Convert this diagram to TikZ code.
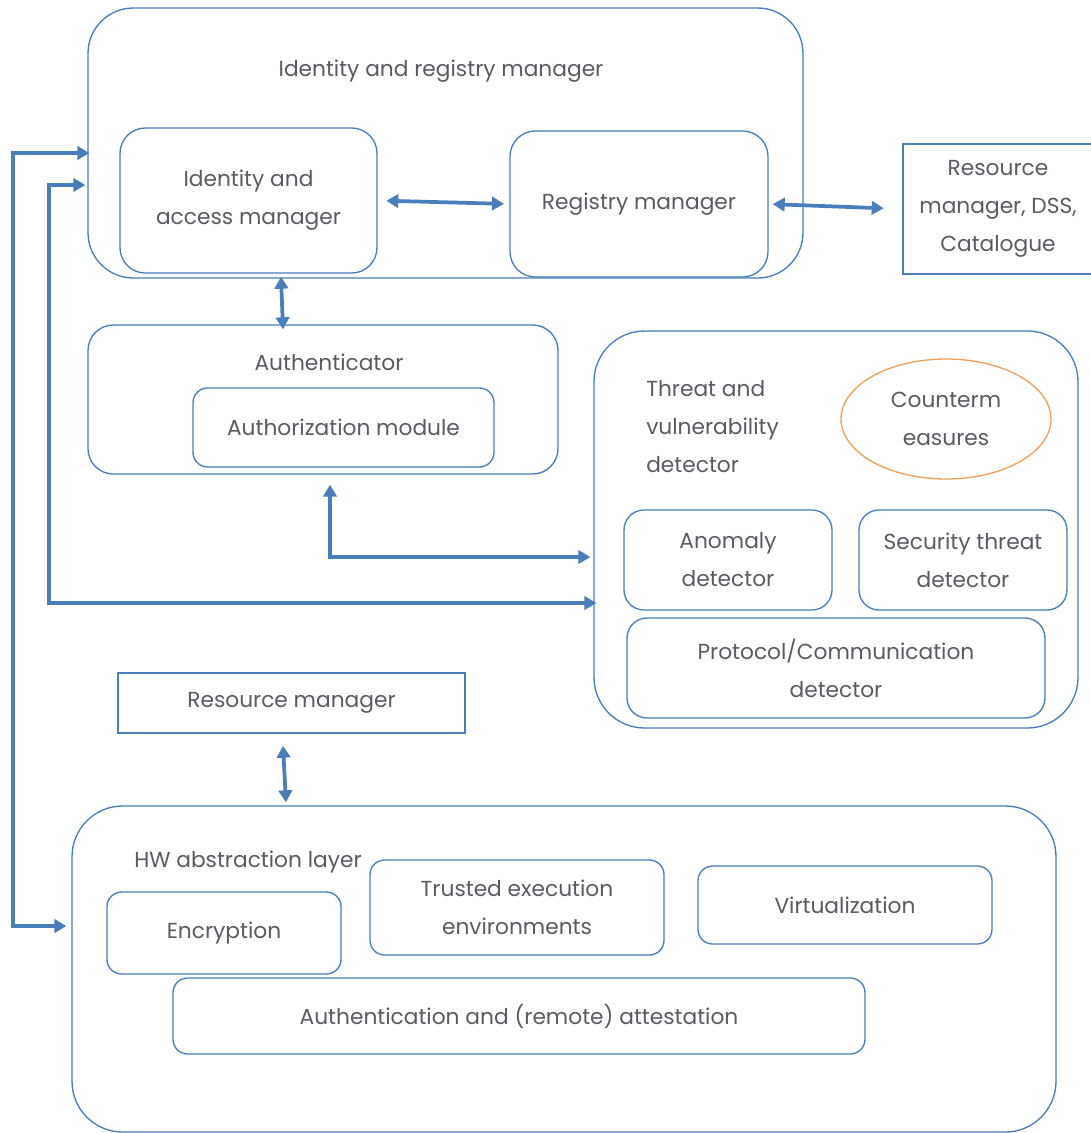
\documentclass[tikz,border=0pt]{standalone}
\usepackage{fontspec}
\setmainfont{Poppins}
\usetikzlibrary{arrows.meta,calc,shapes.geometric}
\definecolor{edgeblue}{RGB}{74,126,187}
\definecolor{inkgray}{RGB}{88,92,98}
\definecolor{accent}{RGB}{240,160,90}
\begin{document}
\begin{tikzpicture}[x=0.75pt,y=-0.75pt,
  sz/.style 2 args={minimum width=#1*0.75pt, minimum height=#2*0.75pt},
  panel/.style={draw=edgeblue, line width=1pt, rounded corners=#1, inner sep=0pt},
  plain/.style={draw=edgeblue, line width=1pt, inner sep=0pt},
  txt/.style={text=inkgray, font=\fontsize{16.3}{28.5}\selectfont, align=center, inner sep=0pt},
  link/.style={draw=edgeblue, line width=2.8pt, {Triangle[length=9pt,width=10pt]}-{Triangle[length=9pt,width=10pt]}}
]
\useasboundingbox (0,0) rectangle (1091,1133);

% identity and registry block
\node[panel=34pt, sz={715}{270}] (irm) at (445.5,143) {};
\node[txt] (irmtitle) at (441,71) {Identity and registry manager};
\node[panel=19pt, sz={257}{145}, txt] (iam) at (248.5,200.5) {Identity and\\access manager};
\node[panel=19pt, sz={258}{146}, txt] (reg) at (639,204) {Registry manager};
\node[plain, sz={190}{130}, txt] (rmdss) at (998,209) {Resource\\manager, DSS,\\Catalogue};

% authenticator block
\node[panel=19pt, sz={470}{149}] (auth) at (323,399.5) {};
\node[txt] (authtitle) at (329,362) {Authenticator};
\node[panel=11pt, sz={301}{79}, txt] (authz) at (343.5,427.5) {Authorization module};

% threat and vulnerability block
\node[panel=38pt, sz={484}{397}] (tvd) at (836,529.5) {};
\node[txt, align=left, anchor=west] (tvdtitle) at (646,427) {Threat and\\vulnerability\\detector};
\node[ellipse, draw=accent, line width=1pt, sz={210}{120}, txt] (cm) at (946,419) {Counterm\\easures};
\node[panel=15pt, sz={208}{100}, txt] (anom) at (728,560) {Anomaly\\detector};
\node[panel=15pt, sz={208}{100}, txt] (sec) at (963,560) {Security threat\\detector};
\node[panel=15pt, sz={418}{100}, txt] (proto) at (836,668) {Protocol/Communication\\detector};

% resource manager
\node[plain, sz={347}{60}, txt] (rm) at (291.5,703) {Resource manager};

% hardware abstraction block
\node[panel=38pt, sz={984}{326}] (hw) at (564,969) {};
\node[txt] (hwtitle) at (248,862) {HW abstraction layer};
\node[panel=11pt, sz={234}{82}, txt] (enc) at (224,933) {Encryption};
\node[panel=11pt, sz={294}{95}, txt] (tee) at (517,907.5) {Trusted execution\\environments};
\node[panel=11pt, sz={294}{78}, txt] (virt) at (845,905) {Virtualization};
\node[panel=11pt, sz={692}{76}, txt] (att) at (519,1016) {Authentication and (remote) attestation};

% connectors
\draw[link, shorten <=6.5pt, shorten >=4pt] (iam.east) -- (reg.west);
\draw[link, shorten <=3pt, shorten >=14pt] (reg.east) -- (rmdss.west);
\draw[link] ($(iam.south)+(32.5,3)$) -- ($(auth.north)+(-40,5)$);
\draw[link] ($(rm.south)+(-8.5,12)$) -- ($(hw.north)+(-278,-3)$);
\draw[link] ($(auth.south)+(7,10)$) |- ($(tvd.west)+(-3,27.5)$);
\draw[link] ($(irm.west)+(-2,42)$) -- ++(-36,0) |- ($(tvd.west)+(3,73.5)$);
\draw[link] ($(irm.west)+(2,10)$) -- ++(-76,0) |- ($(hw.west)+(-5,-43)$);
\end{tikzpicture}
\end{document}
